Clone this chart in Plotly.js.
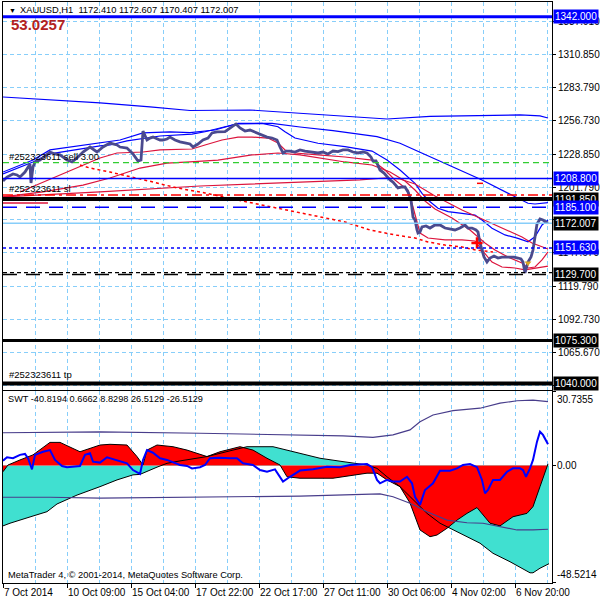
<!DOCTYPE html>
<html><head><meta charset="utf-8">
<script src="https://cdn.plot.ly/plotly-3.0.1.min.js"></script>
<style>body{margin:0;background:#fff}#c{width:600px;height:600px}</style>
</head><body><div id="c"></div>
<script>
// ---------- DATA ----------
const symbol = 'XAUUSD,H1';
const lastOHLC = [1172.410, 1172.607, 1170.407, 1172.007];
const bandWidthValue = 53.0257;
const swtHeader = [-40.8194, 0.6662, 8.8298, 26.5129, -26.5129];

const dateTickBars = [0, 64, 128, 192, 256, 320, 384, 448, 512];
const dateTickText = ['7 Oct 2014','10 Oct 09:00','15 Oct 04:00','17 Oct 22:00','22 Oct 17:00','27 Oct 11:00','30 Oct 06:00','4 Nov 02:00','6 Nov 20:00'];
const priceTicks = [1337.91,1310.85,1283.79,1256.73,1228.85,1201.79,1174.73,1147.67,1119.79,1092.73,1065.67,1038.61];
const hiddenTicks = [1174.73, 1038.61]; // labels fully covered by price boxes

// close prices (hourly bars, sampled)
const priceBar = [0,4,10,14,17,22,27,28,30,32,37,42,47,52,57,64,69,74,80,87,94,100,104,107,114,117,124,130,135,138,140,144,147,150,157,160,164,167,172,177,183,187,190,195,200,205,209,214,222,227,230,233,237,242,247,254,259,264,269,274,277,280,283,287,292,297,302,307,315,320,325,330,335,340,345,350,355,360,364,368,370,373,377,381,384,387,390,395,399,402,405,408,410,412,414,415,417,419,423,427,432,437,442,447,452,457,462,465,469,473,475,477,479,481,484,487,491,495,499,503,507,511,515,518,520,522,525,528,530,532,534,537,540,543,545];
const priceClose = [1206.7,1210.0,1212.5,1211.7,1210.0,1214.1,1220.7,1205.1,1218.3,1222.4,1224.0,1227.3,1230.6,1229.0,1228.2,1224.0,1222.4,1225.7,1230.6,1234.7,1230.6,1234.7,1236.4,1238.0,1236.4,1234.7,1233.9,1229.0,1223.2,1224.0,1247.9,1240.5,1242.1,1242.9,1240.5,1240.5,1241.3,1242.9,1240.5,1238.9,1238.0,1237.2,1234.7,1237.2,1240.5,1242.1,1246.3,1247.1,1247.3,1250.4,1252.0,1253.7,1250.4,1247.9,1248.7,1246.3,1244.6,1242.9,1242.1,1240.5,1234.7,1229.8,1231.4,1231.4,1230.6,1232.3,1231.4,1230.6,1229.8,1230.6,1229.0,1231.4,1230.9,1232.3,1232.3,1230.6,1229.8,1230.6,1229.8,1226.5,1223.2,1223.2,1215.8,1213.3,1210.0,1207.6,1205.9,1201.0,1201.8,1201.8,1197.7,1191.1,1177.1,1174.6,1166.4,1163.9,1164.7,1168.9,1169.7,1168.0,1170.5,1170.5,1168.0,1167.2,1166.4,1168.0,1170.5,1168.0,1168.0,1166.4,1164.7,1155.7,1149.9,1144.1,1140.0,1143.3,1145.0,1143.3,1144.1,1144.1,1144.1,1144.1,1143.3,1142.5,1140.0,1131.0,1140.0,1144.1,1149.9,1161.4,1171.3,1175.4,1174.6,1173.0,1172.007];

// blue envelope lines
const blueSlowBar = [0,47,97,147,187,247,297,337,384,427,477,517,537,545];
const blueSlow = [1275.9,1273.4,1271.0,1267.7,1264.8,1265.2,1262.7,1260.3,1257.8,1259.9,1260.7,1261.1,1260.3,1258.6];
const blueMidBar = [0,17,30,47,77,97,117,140,167,187,212,235,269,297,330,374,397,412,442,479,515,525,532,545];
const blueMid = [1214.1,1219.9,1224.0,1232.3,1235.6,1238.0,1240.5,1246.3,1247.1,1246.5,1248.7,1254.2,1254.2,1251.2,1248.2,1243.2,1237.8,1232.3,1221.3,1207.6,1192.5,1188.4,1187.8,1188.9];
const blueFastBar = [0,17,30,40,47,97,107,124,157,189,202,222,235,259,275,282,292,315,342,369,384,397,405,412,419,425,435,445,459,472,479,489,502,515,525,532,539,545];
const blueFast = [1212.5,1218.3,1222.4,1226.5,1229.0,1235.6,1236.4,1239.7,1243.8,1245.4,1247.3,1251.4,1253.7,1254.1,1251.4,1247.3,1242.1,1237.8,1235.0,1231.4,1224.0,1215.8,1210.0,1204.8,1196.6,1191.1,1184.3,1181.5,1180.1,1178.7,1174.6,1167.8,1162.3,1159.5,1156.7,1160.8,1170.5,1174.6];

// red moving averages
const redFastBar = [17,40,64,80,97,114,140,157,189,202,219,235,249,265,275,282,292,315,342,369,382,392,405,410,414,417,425,442,459,472,479,489,499,512,522,529,539,545];
const redFast = [1197.7,1205.9,1214.1,1219.9,1225.7,1229.8,1230.6,1232.3,1233.1,1236.4,1240.5,1242.9,1242.9,1242.1,1238.0,1232.3,1229.8,1228.2,1226.5,1224.0,1215.8,1207.6,1199.3,1185.3,1172.2,1163.9,1159.8,1158.2,1158.2,1157.3,1149.9,1140.0,1135.9,1135.1,1133.5,1134.3,1135.9,1136.7];
const redMidBar = [0,40,80,107,137,164,187,215,249,275,297,315,342,369,387,402,412,422,432,449,467,482,492,505,519,525,532,539,545];
const redMid = [1193.6,1197.7,1203.4,1209.2,1217.4,1221.5,1222.4,1224.0,1228.2,1229.8,1228.2,1225.7,1222.4,1219.9,1214.1,1206.7,1199.3,1190.3,1183.7,1176.3,1166.4,1155.7,1149.9,1144.1,1139.2,1135.1,1135.9,1141.7,1148.3];
const redSlowBar = [0,97,197,297,357,382,397,412,432,459,482,502,519,529,539,545];
const redSlow = [1193.6,1197.7,1202.6,1205.5,1207.6,1209.2,1208.4,1204.3,1194.4,1182.9,1174.6,1167.2,1160.6,1155.7,1152.4,1150.7];
const redDotBar = [77,87,107,127,150,174,202,225,249,275,299,322,342,367,392,412,425,442,459,473,490];
const redDot = [1219.9,1217.4,1214.1,1210.0,1205.9,1201.0,1196.9,1192.7,1188.6,1184.5,1180.4,1176.3,1173.0,1166.4,1162.3,1159.8,1156.5,1154.0,1152.4,1149.9,1148.3];

// horizontal levels
const levelPrices = [1342.000, 1221.8, 1208.800, 1195.2, 1191.850, 1185.100, 1172.007, 1151.630, 1131.3, 1129.700, 1075.300, 1040.000];
const boxedPrices = [1342.000, 1208.800, 1191.850, 1185.100, 1172.007, 1151.630, 1129.700, 1075.300, 1040.000];
const orderId = '#252323611';
const orderOpen = 1221.8, orderSL = 1195.2, orderTP = 1040.0, orderLots = 3.00;

// small objects
const crossBar = [474], crossPrice = [1155.7];
const arrowBar = [525], arrowPrice = [1139.2];
const segRedBar = [474, 480], segRedPrice = [1204.8, 1204.8];
const segCrimBar = [0, 45], segCrimPrice = [1188.6, 1188.6];

// SWT indicator
const slowBar = [0,7,30,44,54,74,97,114,130,137,154,164,177,204,230,244,270,284,297,317,340,364,374,384,397,410,424,437,447,464,477,490,507,527,530,537,546];
const slowVal = [-25.1,-24.0,-21.0,-19.2,-16.0,-12.3,-8.8,-6.0,-3.9,-3.7,-0.7,0.9,1.9,3.7,6.4,7.8,7.8,6.4,4.8,3.0,1.6,0.2,-1.2,-4.7,-8.8,-14.3,-19.9,-24.0,-26.1,-29.6,-32.3,-36.5,-40.0,-44.6,-44.6,-42.7,-40.82];
const fastBar = [0,5,17,30,47,57,77,97,107,124,134,140,144,154,170,184,204,217,237,250,264,277,284,297,330,350,364,374,384,397,407,417,427,434,444,454,464,474,479,487,497,510,524,530,537,545];
const fastVal = [-2.6,0.2,2.3,4.4,9.6,9.6,5.7,8.5,8.8,8.5,3.7,0.2,6.4,8.5,7.8,6.4,3.7,5.7,7.8,6.4,3.0,0.2,-4.7,-5.3,-5.3,-3.9,-3.2,-3.2,-6.0,-8.8,-15.6,-26.8,-29.6,-28.9,-26.1,-22.7,-19.9,-17.5,-19.9,-24.0,-25.1,-21.3,-19.9,-17.1,-8.8,0.67];
const swtBar = [0,4,10,17,22,25,29,32,40,47,52,59,64,77,82,87,90,97,104,114,124,130,137,140,144,150,157,164,170,177,184,189,197,202,207,217,227,234,240,250,257,264,272,277,280,287,297,310,324,337,347,364,369,374,377,384,390,397,404,409,412,417,422,430,437,447,454,460,467,474,479,482,485,490,497,504,510,517,520,523,527,530,534,537,540,545];
const swtVal = [2.0,3.4,3.0,4.4,4.8,3.0,-1.6,4.4,5.7,6.4,2.3,-0.2,-0.7,-0.2,4.4,5.1,1.6,1.2,3.4,2.3,0.9,-1.9,-3.5,2.3,6.4,5.3,3.0,2.3,1.2,0.2,-0.2,-1.2,-0.7,0.2,3.0,3.2,3.0,3.0,0.9,0.2,-1.9,-2.6,-1.6,-4.7,-6.7,-4.7,-2.1,-1.6,-0.5,-0.7,0.2,0.6,-0.7,-6.0,-7.4,-6.0,-6.7,-6.7,-4.7,-7.4,-13.0,-16.4,-10.2,-7.4,-2.2,-2.2,-1.2,0.2,0.6,-0.7,-6.0,-11.6,-10.2,-6.0,-6.0,-2.6,-1.2,-1.2,-1.9,-4.7,-1.2,2.3,9.9,14.0,12.7,8.83];
const upperBar = [0,97,197,297,340,370,390,407,417,430,450,477,497,514,530,545];
const upperVal = [13.6,14.0,13.4,12.7,12.3,11.7,12.7,14.8,18.2,21.0,22.8,23.8,25.9,26.9,27.2,26.51];
const lowerBar = [0,47,97,197,297,377,390,407,424,444,464,480,497,514,530,545];
const lowerVal = [-13.2,-13.2,-13.6,-13.0,-12.7,-11.8,-13.0,-15.7,-19.2,-22.7,-23.8,-24.0,-25.4,-26.8,-26.8,-26.51];
const swtMax = 30.7355, swtMin = -48.5214;

// ---------- STYLES ----------
const FONT = 'Liberation Sans, Arial, sans-serif';
const GRID = '#87CEFA';
const levelStyles = [
  {color:'#0000FF', width:3, dash:'solid'},
  {color:'#32CD32', width:1.2, dash:'6px,4px'},
  {color:'#0000FF', width:1.5, dash:'solid'},
  {color:'#FF0000', width:1.5, dash:'10px,4px,3px,4px'},
  {color:'#000000', width:4, dash:'solid'},
  {color:'#0000FF', width:1.5, dash:'14px,9px'},
  {color:'#87CEFA', width:1.5, dash:'solid'},
  {color:'#0000FF', width:1.5, dash:'3px,3px'},
  {color:'#000000', width:1.2, dash:'4px,3px'},
  {color:'#000000', width:1.5, dash:'14px,9px'},
  {color:'#000000', width:3, dash:'solid'},
  {color:'#000000', width:4, dash:'solid'}
];
const boxColors = ['#0000FF','#0000FF','#000000','#0000FF','#000000','#0000FF','#000000','#000000','#000000'];

// ---------- TRACES ----------
function ln(x, y, color, width, dash, axes) {
  return {x:x, y:y, type:'scatter', mode:'lines', line:{color:color, width:width, dash:dash||'solid'},
          xaxis:axes[0], yaxis:axes[1], hoverinfo:'skip'};
}
const M = ['x2','y'], I = ['x','y2'];
const traces = [
  {x:slowBar, y:slowVal, type:'scatter', mode:'lines', fill:'tozeroy', fillcolor:'#40E0D0', line:{width:0, color:'#40E0D0'}, xaxis:'x', yaxis:'y2'},
  {x:fastBar, y:fastVal, type:'scatter', mode:'lines', fill:'tozeroy', fillcolor:'#FF0000', line:{width:0, color:'#FF0000'}, xaxis:'x', yaxis:'y2'},
  ln(slowBar, slowVal, '#000000', 1, 'solid', I),
  ln(fastBar, fastVal, '#000000', 1, 'solid', I),
  ln(upperBar, upperVal, '#483D8B', 1.2, 'solid', I),
  ln(lowerBar, lowerVal, '#483D8B', 1.2, 'solid', I),
  ln(swtBar, swtVal, '#0000FF', 2, 'solid', I),
  ln(blueSlowBar, blueSlow, '#0000FF', 1.2, 'solid', M),
  ln(blueMidBar, blueMid, '#0000FF', 1.2, 'solid', M),
  ln(blueFastBar, blueFast, '#0000FF', 1.2, 'solid', M),
  ln(redSlowBar, redSlow, '#DC143C', 1.2, 'solid', M),
  ln(redMidBar, redMid, '#DC143C', 1.2, 'solid', M),
  ln(redFastBar, redFast, '#DC143C', 1.2, 'solid', M),
  ln(redDotBar, redDot, '#FF0000', 1.5, '3px,3px', M),
  ln(segRedBar, segRedPrice, '#FF0000', 1.5, 'solid', M),
  ln(segCrimBar, segCrimPrice, '#DC143C', 1.5, 'solid', M),
  ln(priceBar, priceClose, '#4A4A8E', 2.8, 'solid', M),
  {x:crossBar, y:crossPrice, type:'scatter', mode:'markers', marker:{symbol:'cross-thin', size:8, line:{width:2.5, color:'#FF0000'}}, xaxis:'x2', yaxis:'y'},
  {x:arrowBar, y:arrowPrice, type:'scatter', mode:'markers', marker:{symbol:'triangle-down', size:6, color:'#DAA520'}, xaxis:'x2', yaxis:'y'}
];

// ---------- SHAPES (levels) ----------
const shapes = levelPrices.map((p, i) => ({
  type:'line', xref:'paper', x0:0, x1:1, yref:'y', y0:p, y1:p,
  line:{color:levelStyles[i].color, width:levelStyles[i].width, dash:levelStyles[i].dash}, layer:'above'
}));

// ---------- ANNOTATIONS ----------
const ann = [];
boxedPrices.forEach((p, i) => ann.push({
  xref:'paper', x:1, xanchor:'left', xshift:1, yref:'y', y:p, yanchor:'middle',
  text:p.toFixed(3), showarrow:false, bgcolor:boxColors[i], borderpad:1,
  font:{family:FONT, size:10, color:'#FFFFFF'}, width:42, align:'left'
}));
ann.push({xref:'paper', x:0, xanchor:'left', xshift:4, yref:'y domain', y:1, yanchor:'top', yshift:-3,
  text:'▼', showarrow:false, font:{family:FONT, size:7, color:'#000'}});
ann.push({xref:'paper', x:0, xanchor:'left', xshift:15, yref:'y domain', y:1, yanchor:'top', yshift:-1,
  text:symbol + '  ' + lastOHLC.map(v => v.toFixed(3)).join(' '), showarrow:false, font:{family:FONT, size:9.3, color:'#000'}});
ann.push({xref:'paper', x:0, xanchor:'left', xshift:6, yref:'y domain', y:1, yanchor:'top', yshift:-12,
  text:'<b>' + bandWidthValue.toFixed(4) + '</b>', showarrow:false, font:{family:FONT, size:15, color:'#B22222'}});
ann.push({xref:'paper', x:0, xanchor:'left', xshift:4, yref:'y', y:orderOpen, yanchor:'bottom', yshift:-1,
  text:orderId + ' sell ' + orderLots.toFixed(2), showarrow:false, font:{family:FONT, size:9.5, color:'#000'}});
ann.push({xref:'paper', x:0, xanchor:'left', xshift:4, yref:'y', y:orderSL, yanchor:'bottom', yshift:-1,
  text:orderId + ' sl', showarrow:false, font:{family:FONT, size:9.5, color:'#000'}});
ann.push({xref:'paper', x:0, xanchor:'left', xshift:4, yref:'y', y:orderTP, yanchor:'bottom', yshift:1,
  text:orderId + ' tp', showarrow:false, font:{family:FONT, size:9.5, color:'#000'}});
ann.push({xref:'paper', x:0, xanchor:'left', xshift:3, yref:'y2 domain', y:1, yanchor:'top', yshift:-1,
  text:'SWT ' + swtHeader.map(v => v.toFixed(4)).join(' '), showarrow:false, font:{family:FONT, size:9.2, color:'#000'}});
ann.push({xref:'paper', x:0, xanchor:'left', xshift:3, yref:'y2 domain', y:0, yanchor:'bottom', yshift:1,
  text:'MetaTrader 4, © 2001-2014, MetaQuotes Software Corp.', showarrow:false, font:{family:FONT, size:9.3, color:'#000'}});
[[swtMax, 'top'], [0, 'middle'], [swtMin, 'bottom']].forEach(([v, a]) => ann.push({
  xref:'paper', x:1, xanchor:'left', xshift:3, yref:'y2', y:v, yanchor:a,
  text:(v === 0 ? '0.00' : String(v)), showarrow:false, font:{family:FONT, size:10, color:'#000'}
}));

// ---------- LAYOUT ----------
const xGrid = {showgrid:true, gridcolor:GRID, griddash:'4px,3px', gridwidth:1,
  minor:{tickmode:'linear', tick0:32, dtick:64, showgrid:true, gridcolor:GRID, griddash:'4px,3px', gridwidth:1, ticks:''}};
const layout = {
  width:600, height:600, margin:{l:3, r:48, t:2, b:17},
  paper_bgcolor:'#FFFFFF', plot_bgcolor:'#FFFFFF', showlegend:false,
  font:{family:FONT, size:10, color:'#000'},
  xaxis:Object.assign({domain:[0,1], anchor:'y2', range:[0,549], tickmode:'array', tickvals:dateTickBars, ticktext:dateTickText,
    ticks:'outside', ticklen:4, tickcolor:'#000', tickangle:0, ticklabelposition:'outside right', ticklabeloverflow:'allow',
    showline:true, linecolor:'#000', linewidth:1, mirror:true, zeroline:false, tickfont:{family:FONT, size:10}}, xGrid),
  xaxis2:Object.assign({matches:'x', anchor:'y', range:[0,549], tickmode:'array', tickvals:dateTickBars, showticklabels:false, ticks:'',
    showline:true, linecolor:'#000', linewidth:1, mirror:true, zeroline:false}, xGrid),
  yaxis:{domain:[0.3322,1], range:[1034.63,1354.13], side:'right', anchor:'x2', tickmode:'array', tickvals:priceTicks,
    ticktext:priceTicks.map(v => hiddenTicks.includes(v) ? '' : v.toFixed(3)), ticks:'outside', ticklen:3, tickcolor:'#000',
    showgrid:true, gridcolor:GRID, griddash:'4px,3px', showline:true, linecolor:'#000', mirror:true, zeroline:false,
    tickfont:{family:FONT, size:10}},
  yaxis2:{domain:[0,0.3305], range:[-48.84,30.96], side:'right', anchor:'x', tickmode:'array', tickvals:[swtMax,0,swtMin],
    showticklabels:false, ticks:'outside', ticklen:3, tickcolor:'#000', showgrid:false,
    showline:true, linecolor:'#000', mirror:true, zeroline:false},
  shapes:shapes, annotations:ann
};
Plotly.newPlot('c', traces, layout, {displayModeBar:false, staticPlot:true});
</script></body></html>
